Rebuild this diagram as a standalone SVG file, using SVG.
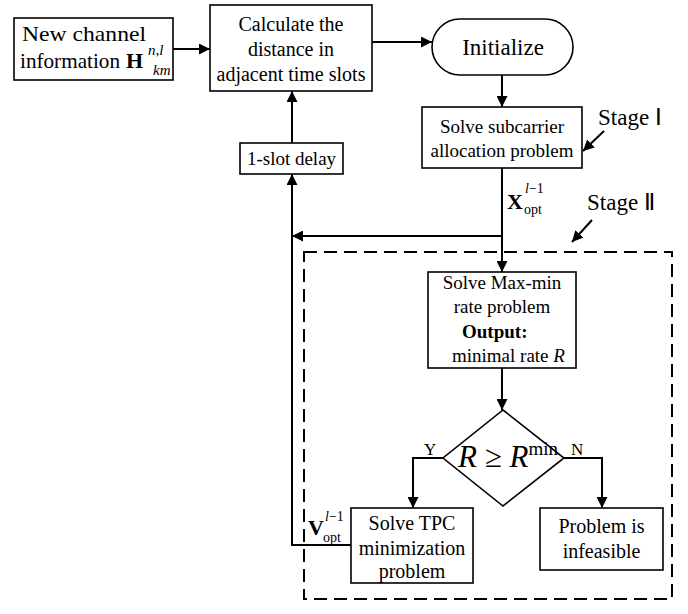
<svg xmlns="http://www.w3.org/2000/svg" width="688" height="614" viewBox="0 0 688 614">
<defs>
<marker id="ah" viewBox="0 0 10 10" refX="10" refY="5" markerWidth="11" markerHeight="11" markerUnits="userSpaceOnUse" orient="auto">
<path d="M0,0 L10,5 L0,10 z" fill="#000"/>
</marker>
</defs>
<style>
text{font-family:"Liberation Serif","Times New Roman",serif;fill:#000}
.box{fill:#fff;stroke:#000;stroke-width:1.6}
.c{fill:none;stroke:#000;stroke-width:2}
.a{marker-end:url(#ah)}
.m{text-anchor:middle}
.s19{font-size:19px}
.s20{font-size:20px}
.it{font-style:italic}
.b{font-weight:bold}
</style>
<rect width="688" height="614" fill="#fff"/>
<g id="stage2-frame">
<rect x="304" y="252" width="368" height="347" fill="none" stroke="#000" stroke-width="2" stroke-dasharray="13,7"/>
</g>
<g id="connectors">
<line class="c a" x1="173" y1="49" x2="210" y2="49"/>
<line class="c a" x1="372" y1="42" x2="432" y2="42"/>
<line class="c a" x1="502" y1="75" x2="502" y2="107"/>
<line class="c a" x1="502" y1="168" x2="502" y2="272"/>
<line class="c a" x1="502" y1="236" x2="292" y2="236"/>
<line class="c a" x1="292" y1="143" x2="292" y2="91"/>
<polyline class="c a" points="351,545 292,545 292,174"/>
<line class="c a" x1="502" y1="368" x2="502" y2="410"/>
<polyline class="c a" points="443,458 413,458 413,508"/>
<polyline class="c a" points="564,458 602,458 602,508"/>
<line class="c a" x1="604" y1="131" x2="583" y2="151"/>
<line class="c a" x1="592" y1="220" x2="572" y2="242"/>
</g>
<g id="new-channel">
<rect class="box" x="14" y="18" width="159" height="62"/>
<text x="22" y="41" font-size="22" textLength="124" lengthAdjust="spacingAndGlyphs">New channel</text>
<text x="20" y="68" font-size="22"><tspan textLength="100" lengthAdjust="spacingAndGlyphs">information</tspan><tspan x="126" class="b">H</tspan><tspan x="148" y="55" font-size="15" class="it">n,l</tspan><tspan x="153" y="75" font-size="15" class="it">km</tspan></text>
</g>
<g id="calc-distance">
<rect class="box" x="210" y="5" width="162" height="86"/>
<text x="291" y="31" class="m s20">Calculate the</text>
<text x="291" y="56" class="m s20">distance in</text>
<text x="291" y="81" class="m s20">adjacent time slots</text>
</g>
<g id="initialize">
<rect class="box" x="432" y="19" width="141" height="56" rx="28" ry="28"/>
<text x="503" y="55" class="m" font-size="23">Initialize</text>
</g>
<g id="subcarrier">
<rect class="box" x="422" y="107" width="160" height="61"/>
<text x="502" y="133" class="m s19">Solve subcarrier</text>
<text x="502" y="157" class="m s19">allocation problem</text>
</g>
<g id="stage1-label">
<text x="598" y="125" font-size="23">Stage Ⅰ</text>
</g>
<g id="slot-delay">
<rect class="box" x="240" y="143" width="103" height="31"/>
<text x="291.5" y="165" class="m s19">1-slot delay</text>
</g>
<g id="x-opt-label">
<text x="507" y="209" font-size="22" class="b">X</text>
<text x="525" y="193" font-size="14"><tspan class="it">l</tspan>−1</text>
<text x="524" y="214" font-size="14">opt</text>
</g>
<g id="stage2-label">
<text x="587" y="210" font-size="23">Stage Ⅱ</text>
</g>
<g id="maxmin">
<rect class="box" x="428" y="272" width="148" height="96"/>
<text x="502" y="289" class="m s19">Solve Max-min</text>
<text x="502" y="313" class="m s19">rate problem</text>
<text x="462" y="338" class="s19 b">Output:</text>
<text x="452" y="362" class="s19">minimal rate <tspan class="it">R</tspan></text>
</g>
<g id="decision">
<polygon class="box" points="503,410 564,458 503,506 443,458"/>
<text x="458" y="467" font-size="31"><tspan class="it">R</tspan> ≥ <tspan class="it">R</tspan><tspan font-size="19" dy="-12">min</tspan></text>
<text x="424" y="455" font-size="17">Y</text>
<text x="571" y="455" font-size="17">N</text>
</g>
<g id="tpc">
<rect class="box" x="351" y="508" width="122" height="75"/>
<text x="412" y="530" class="m s20">Solve TPC</text>
<text x="412" y="555" class="m s20">minimization</text>
<text x="412" y="578" class="m s20">problem</text>
</g>
<g id="infeasible">
<rect class="box" x="540" y="508" width="123" height="62"/>
<text x="601.5" y="533" class="m s20">Problem is</text>
<text x="601.5" y="558" class="m s20">infeasible</text>
</g>
<g id="v-opt-label">
<text x="308" y="535" font-size="22" class="b">V</text>
<text x="325" y="521" font-size="14"><tspan class="it">l</tspan>−1</text>
<text x="323" y="542" font-size="14">opt</text>
</g>
</svg>
